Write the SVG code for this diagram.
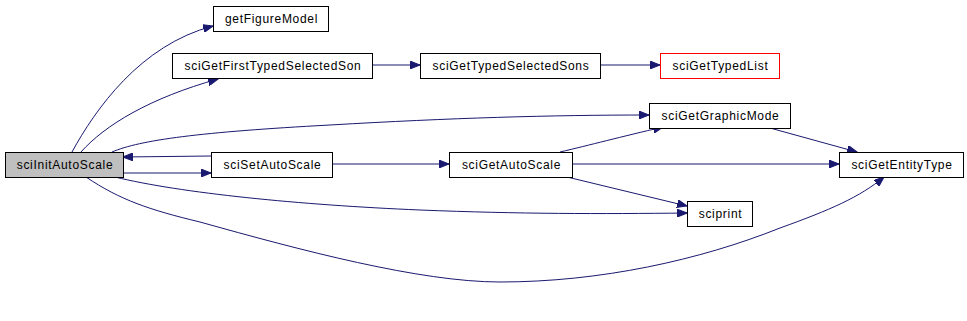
<svg xmlns="http://www.w3.org/2000/svg" width="967" height="321" viewBox="0 0 967 321">
<defs>
<marker id="ah" markerUnits="userSpaceOnUse" markerWidth="11" markerHeight="8" refX="10" refY="4" orient="auto">
<path d="M0,0 L10,4 L0,8 z" fill="#191970" stroke="#191970" stroke-width="1"/>
</marker>
<style>
.n rect{fill:#fff;stroke:#000;stroke-width:1}
.n text{font-family:"Liberation Sans",Arial,sans-serif;font-size:12px;letter-spacing:0.7px;text-anchor:middle;fill:#000}
#connectors path{fill:none;stroke:#191970;stroke-width:1;marker-end:url(#ah)}
</style>
</defs>
<rect width="967" height="321" fill="#fff"/>
<g id="connectors">
<path d="M72,152 C95,110 140,45 213,26"/>
<path d="M81,152 C105,125 150,98 218,79"/>
<path d="M372,65 L420,65"/>
<path d="M600,65 L660,65"/>
<path d="M112,152 C140,140 200,132 330,125 C450,118 550,115 649,115"/>
<path d="M211,156 L123,157"/>
<path d="M123,173 L211,173"/>
<path d="M332,164 L449,164"/>
<path d="M560,152 C590,145 620,137 663,127"/>
<path d="M572,164 L839,164"/>
<path d="M770,128 L857,152"/>
<path d="M567,177 L687,206"/>
<path d="M115,177 C180,193 300,205 420,210 C520,214 600,214 687,213"/>
<path d="M86,177 C120,200 150,210 200,222 C300,250 420,282 500,282 C600,282 700,260 780,228 C830,210 860,197 884,177"/>
</g>
<g id="sciInitAutoScale" class="n"><rect x="5.5" y="152.5" width="118" height="25" style="fill:#bfbfbf"/><text x="65" y="169">sciInitAutoScale</text></g>
<g id="getFigureModel" class="n"><rect x="213.5" y="6.5" width="115" height="25"/><text x="271.5" y="23">getFigureModel</text></g>
<g id="sciGetFirstTypedSelectedSon" class="n"><rect x="172.5" y="53.5" width="200" height="25"/><text x="273" y="70">sciGetFirstTypedSelectedSon</text></g>
<g id="sciGetTypedSelectedSons" class="n"><rect x="420.5" y="53.5" width="180" height="25"/><text x="511" y="70">sciGetTypedSelectedSons</text></g>
<g id="sciGetTypedList" class="n"><rect x="660.5" y="53.5" width="119" height="25" style="stroke:#ff0000"/><text x="720.5" y="70">sciGetTypedList</text></g>
<g id="sciGetGraphicMode" class="n"><rect x="649.5" y="103.5" width="141" height="25"/><text x="720.5" y="120">sciGetGraphicMode</text></g>
<g id="sciSetAutoScale" class="n"><rect x="211.5" y="152.5" width="121" height="25"/><text x="272.5" y="169">sciSetAutoScale</text></g>
<g id="sciGetAutoScale" class="n"><rect x="449.5" y="152.5" width="123" height="25"/><text x="511.5" y="169">sciGetAutoScale</text></g>
<g id="sciGetEntityType" class="n"><rect x="839.5" y="152.5" width="124" height="25"/><text x="902" y="169">sciGetEntityType</text></g>
<g id="sciprint" class="n"><rect x="687.5" y="201.5" width="65" height="25"/><text x="720.5" y="218">sciprint</text></g>
</svg>
